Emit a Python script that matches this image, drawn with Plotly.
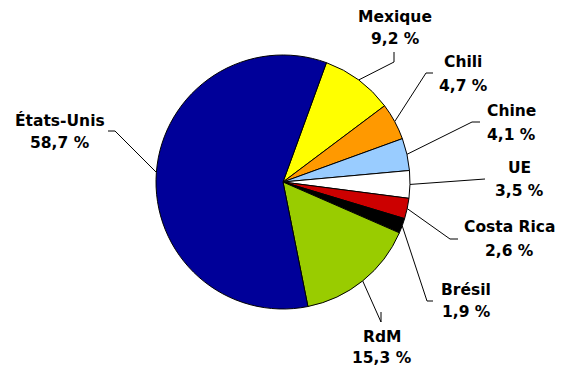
import math
import plotly.graph_objects as go

# ---- data ----
labels = ["Mexique", "Chili", "Chine", "UE", "Costa Rica", "Brésil", "RdM", "États-Unis"]
values = [9.2, 4.7, 4.1, 3.5, 2.6, 1.9, 15.3, 58.7]
value_text = ["9,2 %", "4,7 %", "4,1 %", "3,5 %", "2,6 %", "1,9 %", "15,3 %", "58,7 %"]

# ---- styles / layout ----
colors = ["#FFFF00", "#FF9900", "#99CCFF", "#FFFFFF", "#CC0000", "#000000", "#99CC00", "#000099"]
W, H = 563, 371
CX, CY, R = 283, 182, 127
ROT = 20
FONT = "DejaVu Sans"
FS = 15.5

# label text centre (x, first-line y, second-line y) and leader line knee / end (pixels)
label_x = [395, 463, 511, 519, 509, 466, 382, 60]
label_y1 = [17, 62, 111, 168, 227, 290, 337, 120]
label_y2 = [39, 86, 135, 191, 251, 312, 358, 143]
knee = [(394, 62), (426, 73), (472, 122), None, (450, 239), (427, 301), (381, 322), (115, 131)]
tail = [(394, 52), (433, 73), (480, 122), (485, 179), (458, 239), (433, 301), (381, 312), (108, 131)]

fig = go.Figure()

fig.add_trace(go.Pie(
    labels=labels, values=values, sort=False, direction="clockwise", rotation=ROT,
    marker=dict(colors=colors, line=dict(color="black", width=1)),
    textinfo="none", hoverinfo="label+percent", showlegend=False,
    domain=dict(x=[(CX - R) / W, (CX + R) / W],
                y=[(H - CY - R) / H, (H - CY + R) / H]),
))

total = sum(values)
cum = 0.0
annotations = []
for i, v in enumerate(values):
    mid = ROT + (cum + v / 2) / total * 360.0
    cum += v
    a = math.radians(mid)
    ex, ey = CX + R * math.sin(a), CY - R * math.cos(a)
    xs, ys = [ex], [ey]
    if knee[i] is not None:
        xs.append(knee[i][0]); ys.append(knee[i][1])
    xs.append(tail[i][0]); ys.append(tail[i][1])
    fig.add_trace(go.Scatter(x=xs, y=ys, mode="lines", line=dict(color="black", width=1),
                             hoverinfo="skip", showlegend=False))
    annotations.append(dict(x=label_x[i], y=label_y1[i], xref="x", yref="y",
                            text="<b>%s</b>" % labels[i], showarrow=False,
                            xanchor="center", yanchor="middle",
                            font=dict(family=FONT, size=FS, color="black")))
    annotations.append(dict(x=label_x[i], y=label_y2[i], xref="x", yref="y",
                            text="<b>%s</b>" % value_text[i], showarrow=False,
                            xanchor="center", yanchor="middle",
                            font=dict(family=FONT, size=FS, color="black")))

fig.update_layout(
    width=W, height=H, margin=dict(l=0, r=0, t=0, b=0),
    paper_bgcolor="white", plot_bgcolor="rgba(0,0,0,0)",
    xaxis=dict(range=[0, W], visible=False, fixedrange=True),
    yaxis=dict(range=[H, 0], visible=False, fixedrange=True),
    annotations=annotations,
)

fig.write_html("out.html", config={"displayModeBar": False},
               post_script="document.body.style.margin='0';document.body.style.overflow='hidden';")
